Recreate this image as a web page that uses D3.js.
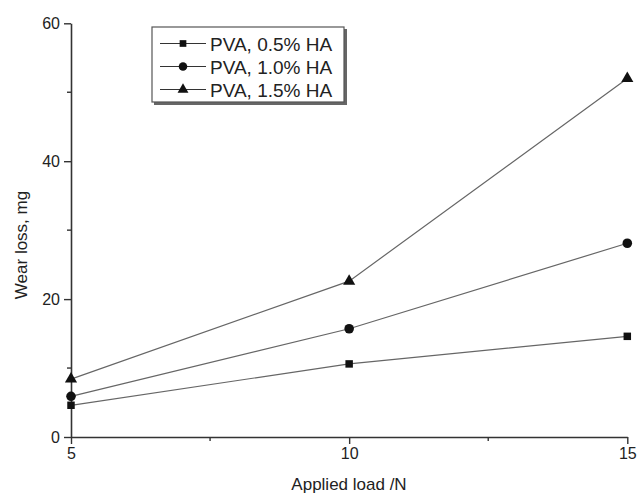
<!DOCTYPE html>
<html>
<head>
<meta charset="utf-8">
<script src="https://cdn.jsdelivr.net/npm/d3@7"></script>
<style>
  body { margin: 0; background: #fff; }
  text { font-family: "Liberation Sans", Arial, sans-serif; fill: #222; }
</style>
</head>
<body>
<div id="chart"></div>
<script>
// data
var loads = [5, 10, 15];
var ha05 = [4.6, 10.6, 14.6];
var ha10 = [5.9, 15.7, 28.1];
var ha15 = [8.4, 22.6, 52.0];
var seriesNames = ["PVA, 0.5% HA", "PVA, 1.0% HA", "PVA, 1.5% HA"];
var xTicks = [5, 10, 15];
var yTicks = [0, 20, 40, 60];
var xMinor = [7.5, 12.5];
var yMinor = [10, 30, 50];

var w = 638, h = 498;
var series = [
  { name: seriesNames[0], values: ha05, symbol: d3.symbolSquare, size: 56 },
  { name: seriesNames[1], values: ha10, symbol: d3.symbolCircle, size: 72 },
  { name: seriesNames[2], values: ha15, symbol: d3.symbolTriangle, size: 64 }
];

var svg = d3.select("#chart").append("svg")
  .attr("width", w).attr("height", h);

var x = d3.scaleLinear().domain([5, 15]).range([71, 627.3]);
var y = d3.scaleLinear().domain([0, 60]).range([437, 23.3]);

// minor ticks (drawn by hand, short, outward)
svg.selectAll(".xminor").data(xMinor).enter().append("line")
  .attr("x1", d => x(d)).attr("x2", d => x(d))
  .attr("y1", 437).attr("y2", 441)
  .attr("stroke", "#333").attr("stroke-width", 1.4);
svg.selectAll(".yminor").data(yMinor).enter().append("line")
  .attr("x1", 71).attr("x2", 67)
  .attr("y1", d => y(d)).attr("y2", d => y(d))
  .attr("stroke", "#333").attr("stroke-width", 1.4);

// main axes
var xAxis = svg.append("g")
  .attr("transform", "translate(0,437)")
  .call(d3.axisBottom(x).tickValues(xTicks).tickSize(7).tickSizeOuter(0).tickPadding(4));
var yAxis = svg.append("g")
  .attr("transform", "translate(71,0)")
  .call(d3.axisLeft(y).tickValues(yTicks).tickSize(7).tickSizeOuter(0).tickPadding(4));

[xAxis, yAxis].forEach(function (g) {
  g.selectAll("text").style("font-size", "16px").attr("fill", "#222");
  g.select(".domain").attr("stroke", "#333").attr("stroke-width", 1.6);
  g.selectAll(".tick line").attr("stroke", "#333").attr("stroke-width", 1.4);
});

// axis titles
svg.append("text")
  .attr("x", 349).attr("y", 490)
  .attr("text-anchor", "middle")
  .style("font-size", "17px")
  .text("Applied load /N");
svg.append("text")
  .attr("transform", "translate(27,245) rotate(-90)")
  .attr("text-anchor", "middle")
  .style("font-size", "17px")
  .text("Wear loss, mg");

// lines and markers
var line = d3.line()
  .x((d, i) => x(loads[i]))
  .y(d => y(d));

series.forEach(function (s) {
  svg.append("path")
    .datum(s.values)
    .attr("fill", "none")
    .attr("stroke", "#666")
    .attr("stroke-width", 1.2)
    .attr("d", line);
  svg.selectAll(null)
    .data(s.values)
    .enter().append("path")
    .attr("transform", (d, i) => "translate(" + x(loads[i]) + "," + y(d) + ")")
    .attr("d", d3.symbol().type(s.symbol).size(s.size))
    .attr("fill", "#111");
});

// legend
var lg = svg.append("g");
lg.append("rect")
  .attr("x", 154).attr("y", 29).attr("width", 193).attr("height", 76)
  .attr("fill", "#666");
lg.append("rect")
  .attr("x", 152).attr("y", 27).attr("width", 192).attr("height", 75)
  .attr("fill", "#fff").attr("stroke", "#555").attr("stroke-width", 1.2);

series.forEach(function (s, i) {
  var ry = 43.5 + i * 23;
  lg.append("line")
    .attr("x1", 160).attr("x2", 206)
    .attr("y1", ry).attr("y2", ry)
    .attr("stroke", "#333").attr("stroke-width", 1.2);
  lg.append("path")
    .attr("transform", "translate(183," + ry + ")")
    .attr("d", d3.symbol().type(s.symbol).size(s.size * 0.8))
    .attr("fill", "#111");
  lg.append("text")
    .attr("x", 210).attr("y", ry + 7)
    .style("font-size", "19px")
    .text(s.name);
});
</script>
</body>
</html>
